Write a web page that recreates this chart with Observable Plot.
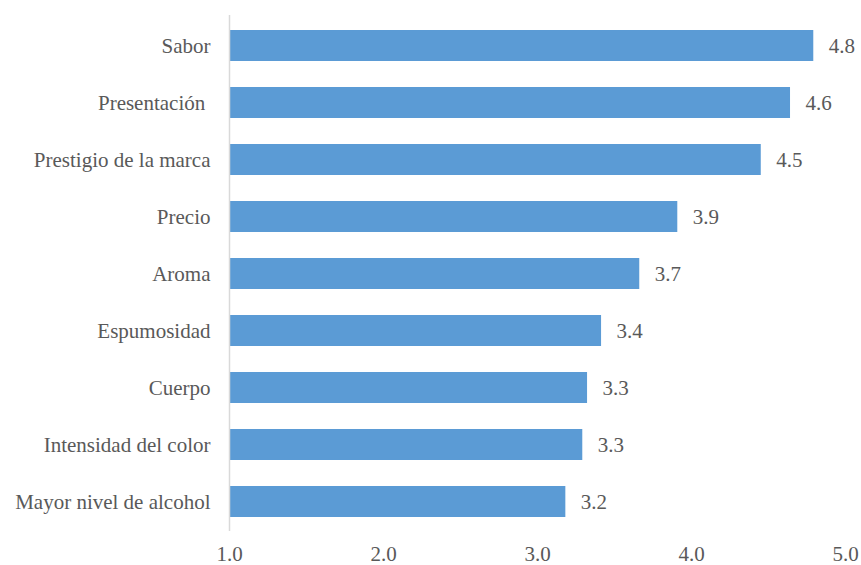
<!DOCTYPE html>
<html>
<head>
<meta charset="utf-8">
<script src="https://cdn.jsdelivr.net/npm/d3@7"></script>
<script src="https://cdn.jsdelivr.net/npm/@observablehq/plot@0.6"></script>
<style>
  html, body { margin: 0; padding: 0; background: #fff; }
  #chart { width: 861px; height: 565px; }
  #chart svg, #chart svg text { font-family: "Liberation Serif", "Times New Roman", serif !important; }
</style>
</head>
<body>
<div id="chart"></div>
<script>
const categories = ["Sabor", "Presentación\u00a0", "Prestigio de la marca", "Precio", "Aroma", "Espumosidad", "Cuerpo", "Intensidad del color", "Mayor nivel de alcohol"];
const values = [4.794, 4.643, 4.453, 3.911, 3.664, 3.416, 3.325, 3.294, 3.184];
const xTicks = [1, 2, 3, 4, 5];

const data = categories.map((c, i) => ({category: c, value: values[i]}));
const textColor = "#595959";

const chart = Plot.plot({
  width: 861,
  height: 565,
  marginLeft: 229,
  marginRight: 16,
  marginTop: 15,
  marginBottom: 34,
  style: {fontSize: "21px", color: textColor, background: "#fff"},
  x: {domain: [1, 5], ticks: xTicks, tickFormat: d => d.toFixed(1), tickSize: 0, tickPadding: 15, label: null},
  y: {domain: categories, paddingInner: 0.46, paddingOuter: 0.23, tickSize: 0, tickPadding: 19, label: null},
  marks: [
    Plot.barX(data, {x1: 1, x2: "value", y: "category", fill: "#5B9BD5"}),
    Plot.ruleX([1], {stroke: "#d9d9d9", strokeWidth: 1.5}),
    Plot.text(data, {x: "value", y: "category", text: d => d.value.toFixed(1), textAnchor: "start", dx: 15, fill: textColor, fontSize: 21})
  ]
});
document.getElementById("chart").appendChild(chart);
</script>
</body>
</html>
